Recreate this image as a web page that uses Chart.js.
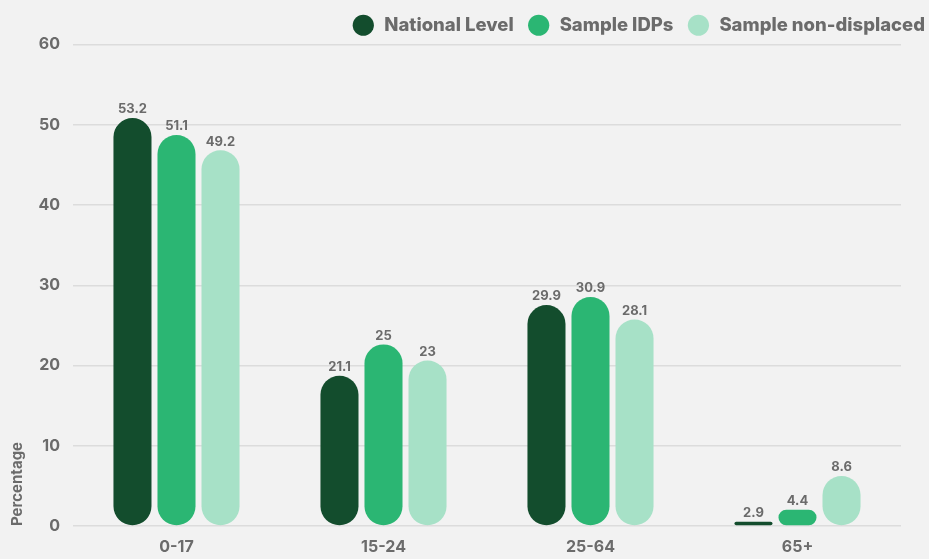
<!DOCTYPE html>
<html>
<head>
<meta charset="utf-8">
<script src="https://cdn.jsdelivr.net/npm/chart.js@4.4.1/dist/chart.umd.min.js"></script>
<style>
    html, body { margin: 0; padding: 0; background: #f2f2f2; }
    #wrap { width: 929px; height: 559px; }
</style>
</head>
<body>
<div id="wrap"><canvas id="ageChart"></canvas></div>
<script>
/* =========================
   DATA
========================= */

const ageGroups = ["0-17", "15-24", "25-64", "65+"];
const nationalLevel = [53.2, 21.1, 29.9, 2.9];
const sampleIDPs = [51.1, 25, 30.9, 4.4];
const sampleNonDisplaced = [49.2, 23, 28.1, 8.6];
const yTicks = [0, 10, 20, 30, 40, 50, 60];

const TEXT = "#6b6b6b";
const FONT = "Inter, 'Open Sans', sans-serif";


/* =========================
   PLUGINS
========================= */

// pill bars: the rounded cap sits below the value
const pillTop = {
    id: "pillTop",
    afterDatasetsUpdate(chart) {
        chart.data.datasets.forEach((ds, i) => {
            chart.getDatasetMeta(i).data.forEach(bar => {
                bar.y = Math.min(bar.y + bar.width / 2, bar.base - 3.5);
            });
        });
    }
};

const valueLabels = {
    id: "valueLabels",
    afterDatasetsDraw(chart) {
        const ctx = chart.ctx;
        ctx.save();
        ctx.font = "bold 13px " + FONT;
        ctx.fillStyle = TEXT;
        ctx.textAlign = "center";
        ctx.textBaseline = "bottom";
        chart.data.datasets.forEach((ds, i) => {
            chart.getDatasetMeta(i).data.forEach((bar, j) => {
                ctx.fillText(String(ds.data[j]), bar.x, bar.y - 2);
            });
        });
        ctx.restore();
    }
};


/* =========================
   CHART
========================= */

function renderAgeChart() {
    const ctx = document.getElementById("ageChart");
    if (!ctx) return;

    const barStyle = {
        borderRadius: 19,
        borderSkipped: false,
        categoryPercentage: 0.638,
        barPercentage: 0.864
    };

    new Chart(ctx, {
        type: "bar",
        data: {
            labels: ageGroups,
            datasets: [
                { label: "National Level", data: nationalLevel, backgroundColor: "#134d2d", ...barStyle },
                { label: "Sample IDPs", data: sampleIDPs, backgroundColor: "#2bb673", ...barStyle },
                { label: "Sample non-displaced", data: sampleNonDisplaced, backgroundColor: "#a7e1c7", ...barStyle }
            ]
        },
        options: {
            responsive: true,
            maintainAspectRatio: false,
            animation: false,
            layout: { padding: { top: 0, right: -12, bottom: 0, left: 0 } },
            plugins: {
                legend: {
                    position: "top",
                    align: "end",
                    labels: {
                        usePointStyle: true,
                        pointStyle: "circle",
                        boxWidth: 18,
                        boxHeight: 15,
                        padding: 16,
                        color: TEXT,
                        font: { family: FONT, size: 18.5, weight: "800" },
                        generateLabels(chart) {
                            // a thin space widens the gap after the dot
                            return Chart.defaults.plugins.legend.labels.generateLabels(chart)
                                .map(item => ({ ...item, text: "\u2009" + item.text }));
                        }
                    }
                },
                tooltip: { enabled: false }
            },
            scales: {
                x: {
                    afterFit(scale) { scale.height = 33; },
                    grid: { display: false, drawTicks: false },
                    border: { display: false },
                    ticks: {
                        color: TEXT,
                        padding: 12,
                        font: { family: FONT, size: 16, weight: "bold" }
                    }
                },
                y: {
                    min: 0,
                    max: 60,
                    afterBuildTicks(scale) {
                        scale.ticks = yTicks.map(v => ({ value: v }));
                    },
                    afterFit(scale) { scale.width = 73; },
                    grid: { color: "#dcdcdc", lineWidth: 1.5, drawTicks: false },
                    border: { display: false },
                    ticks: {
                        color: TEXT,
                        padding: 13,
                        font: { family: FONT, size: 16, weight: "bold" }
                    },
                    title: {
                        display: true,
                        text: "Percentage",
                        align: "start",
                        color: TEXT,
                        padding: { top: 8, bottom: 0 },
                        font: { family: FONT, size: 15, weight: "bold" }
                    }
                },
                yRight: {
                    position: "right",
                    min: 0,
                    max: 60,
                    afterFit(scale) { scale.width = 40; },
                    grid: { display: false },
                    border: { display: false },
                    ticks: { display: false }
                }
            }
        },
        plugins: [pillTop, valueLabels]
    });
}

document.addEventListener("DOMContentLoaded", renderAgeChart);
</script>
</body>
</html>
